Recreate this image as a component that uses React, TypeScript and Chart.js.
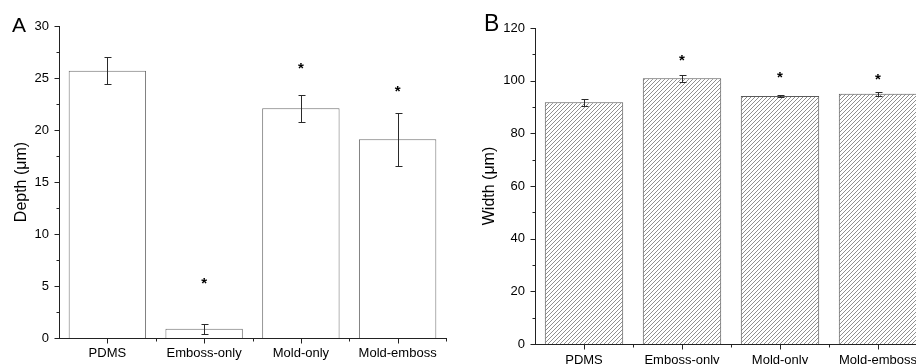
import React, { useEffect, useRef } from 'react';
import { Chart, registerables } from 'chart.js';

Chart.register(...registerables);

const FONT = '"Liberation Sans", Arial, Helvetica, sans-serif';

const categories = ['PDMS', 'Emboss-only', 'Mold-only', 'Mold-emboss'];

const depthValues = [25.7, 0.9, 22.1, 19.1];
const depthErrors = [1.28, 0.48, 1.3, 2.58];
const depthStars: (number | null)[] = [null, 5.7, 26.3, 24.1];
const depthTitle = 'Depth (\u03bcm)';

const widthValues = [91.8, 100.9, 94.2, 95.0];
const widthErrors = [1.25, 1.4, 0.5, 0.7];
const widthStars: (number | null)[] = [null, 109.2, 103.1, 102.3];
const widthTitle = 'Width (\u03bcm)';

type PanelProps = {
  letter: string;
  values: number[];
  errors: number[];
  stars: (number | null)[];
  title: string;
  yMax: number;
  major: number;
  minor: number;
  hatched: boolean;
  canvasW: number;
  yAxisW: number;
  xAxisH: number;
  padTop: number;
  padRight: number;
  titlePad: number;
  xLabelPad: number;
  letterX: number;
  letterY: number;
  letterSize: number;
  borderColor: string;
};

function Panel(p: PanelProps) {
  const ref = useRef<HTMLCanvasElement | null>(null);
  useEffect(() => {
    const canvas = ref.current!;
    const ctx0 = canvas.getContext('2d')!;
    let fill: any = '#ffffff';
    if (p.hatched) {
      const t = document.createElement('canvas');
      t.width = 4;
      t.height = 4;
      const g = t.getContext('2d')!;
      g.fillStyle = '#ffffff';
      g.fillRect(0, 0, 4, 4);
      g.strokeStyle = '#8f8f8f';
      g.lineWidth = 1;
      g.beginPath();
      g.moveTo(0, 4);
      g.lineTo(4, 0);
      g.moveTo(-1, 1);
      g.lineTo(1, -1);
      g.moveTo(3, 5);
      g.lineTo(5, 3);
      g.stroke();
      fill = ctx0.createPattern(t, 'repeat');
    }

    const overlay = {
      id: 'overlay',
      afterDatasetsDraw(chart: any) {
        const { ctx, chartArea } = chart;
        const xs = chart.scales.x;
        const ys = chart.scales.y;
        ctx.save();
        // error bars
        ctx.strokeStyle = '#2a2a2a';
        ctx.lineWidth = 1;
        p.values.forEach((v, i) => {
          const px = Math.round(xs.getPixelForValue(i)) + 0.5;
          const t = Math.round(ys.getPixelForValue(v + p.errors[i])) + 0.5;
          const b = Math.round(ys.getPixelForValue(v - p.errors[i])) + 0.5;
          ctx.beginPath();
          ctx.moveTo(px, t);
          ctx.lineTo(px, b);
          ctx.moveTo(px - 3, t);
          ctx.lineTo(px + 4, t);
          ctx.moveTo(px - 3, b);
          ctx.lineTo(px + 4, b);
          ctx.stroke();
        });
        // asterisks
        ctx.fillStyle = '#000';
        ctx.font = 'bold 15px ' + FONT;
        ctx.textAlign = 'center';
        ctx.textBaseline = 'alphabetic';
        p.stars.forEach((s, i) => {
          if (s === null) return;
          ctx.fillText('*', xs.getPixelForValue(i), ys.getPixelForValue(s) + 9);
        });
        // axis ticks
        ctx.strokeStyle = '#222';
        ctx.beginPath();
        const left = Math.round(chartArea.left) + 0.5;
        const bottom = Math.round(chartArea.bottom) + 0.5;
        for (let v = 0; v <= p.yMax + 1e-9; v += p.minor) {
          const y = Math.round(ys.getPixelForValue(v)) + 0.5;
          const isMajor = Math.abs(v / p.major - Math.round(v / p.major)) < 1e-6;
          ctx.moveTo(left, y);
          ctx.lineTo(left - (isMajor ? 5 : 3), y);
        }
        const n = p.values.length;
        for (let i = 0; i < n; i++) {
          const x = Math.round(xs.getPixelForValue(i)) + 0.5;
          ctx.moveTo(x, bottom);
          ctx.lineTo(x, bottom + 5);
        }
        for (let i = 0; i < n; i++) {
          const x = Math.round(xs.getPixelForValue(i + 0.5)) + 0.5;
          ctx.moveTo(x, bottom);
          ctx.lineTo(x, bottom + 3);
        }
        ctx.stroke();
        // panel letter
        ctx.fillStyle = '#000';
        ctx.font = p.letterSize + 'px ' + FONT;
        ctx.textAlign = 'left';
        ctx.textBaseline = 'alphabetic';
        ctx.fillText(p.letter, p.letterX, p.letterY);
        ctx.restore();
      },
    };

    const chart = new Chart(canvas, {
      type: 'bar',
      data: {
        labels: categories,
        datasets: [
          {
            data: p.values,
            backgroundColor: fill,
            borderColor: p.borderColor,
            borderWidth: 1,
            barPercentage: 0.8,
            categoryPercentage: 1.0,
          },
        ],
      },
      options: {
        responsive: false,
        animation: false,
        devicePixelRatio: 1,
        layout: { padding: { left: 0, top: p.padTop, right: p.padRight, bottom: 0 } },
        plugins: { legend: { display: false }, tooltip: { enabled: false } },
        scales: {
          x: {
            grid: { display: false, drawTicks: false },
            border: { display: true, color: '#222', width: 1 },
            ticks: {
              color: '#000',
              font: { size: 13, family: FONT },
              padding: p.xLabelPad,
              maxRotation: 0,
              autoSkip: false,
            },
            afterFit: (s: any) => {
              s.height = p.xAxisH;
            },
          },
          y: {
            min: 0,
            max: p.yMax,
            grid: { display: false, drawTicks: false },
            border: { display: true, color: '#222', width: 1 },
            ticks: {
              stepSize: p.major,
              color: '#000',
              font: { size: 13, family: FONT },
              padding: 10,
            },
            title: {
              display: true,
              text: p.title,
              color: '#000',
              font: { size: 16, family: FONT },
              padding: { top: p.titlePad, bottom: 0 },
            },
            afterFit: (s: any) => {
              s.width = p.yAxisW;
            },
          },
        },
      },
      plugins: [overlay],
    });
    return () => chart.destroy();
  }, []);
  return (
    <canvas
      ref={ref}
      width={p.canvasW}
      height={364}
      style={{ display: 'block', width: p.canvasW, height: 364 }}
    />
  );
}

export default function App() {
  return (
    <div
      style={{
        position: 'fixed',
        left: 0,
        top: 0,
        width: 916,
        height: 364,
        overflow: 'hidden',
        background: '#fff',
      }}
    >
      <div style={{ position: 'absolute', left: 0, top: 0 }}>
        <Panel
          letter="A"
          values={depthValues}
          errors={depthErrors}
          stars={depthStars}
          title={depthTitle}
          yMax={30}
          major={5}
          minor={2.5}
          hatched={false}
          canvasW={460}
          yAxisW={59}
          xAxisH={26}
          padTop={26}
          padRight={14}
          titlePad={12}
          xLabelPad={8}
          letterX={12}
          letterY={32}
          letterSize={21}
          borderColor="#6e6e6e"
        />
      </div>
      <div style={{ position: 'absolute', left: 460, top: 0 }}>
        <Panel
          letter="B"
          values={widthValues}
          errors={widthErrors}
          stars={widthStars}
          title={widthTitle}
          yMax={120}
          major={20}
          minor={10}
          hatched={true}
          canvasW={480}
          yAxisW={75}
          xAxisH={20}
          padTop={28}
          padRight={13}
          titlePad={20}
          xLabelPad={9}
          letterX={24}
          letterY={31}
          letterSize={23}
          borderColor="#5a5a5a"
        />
      </div>
    </div>
  );
}
